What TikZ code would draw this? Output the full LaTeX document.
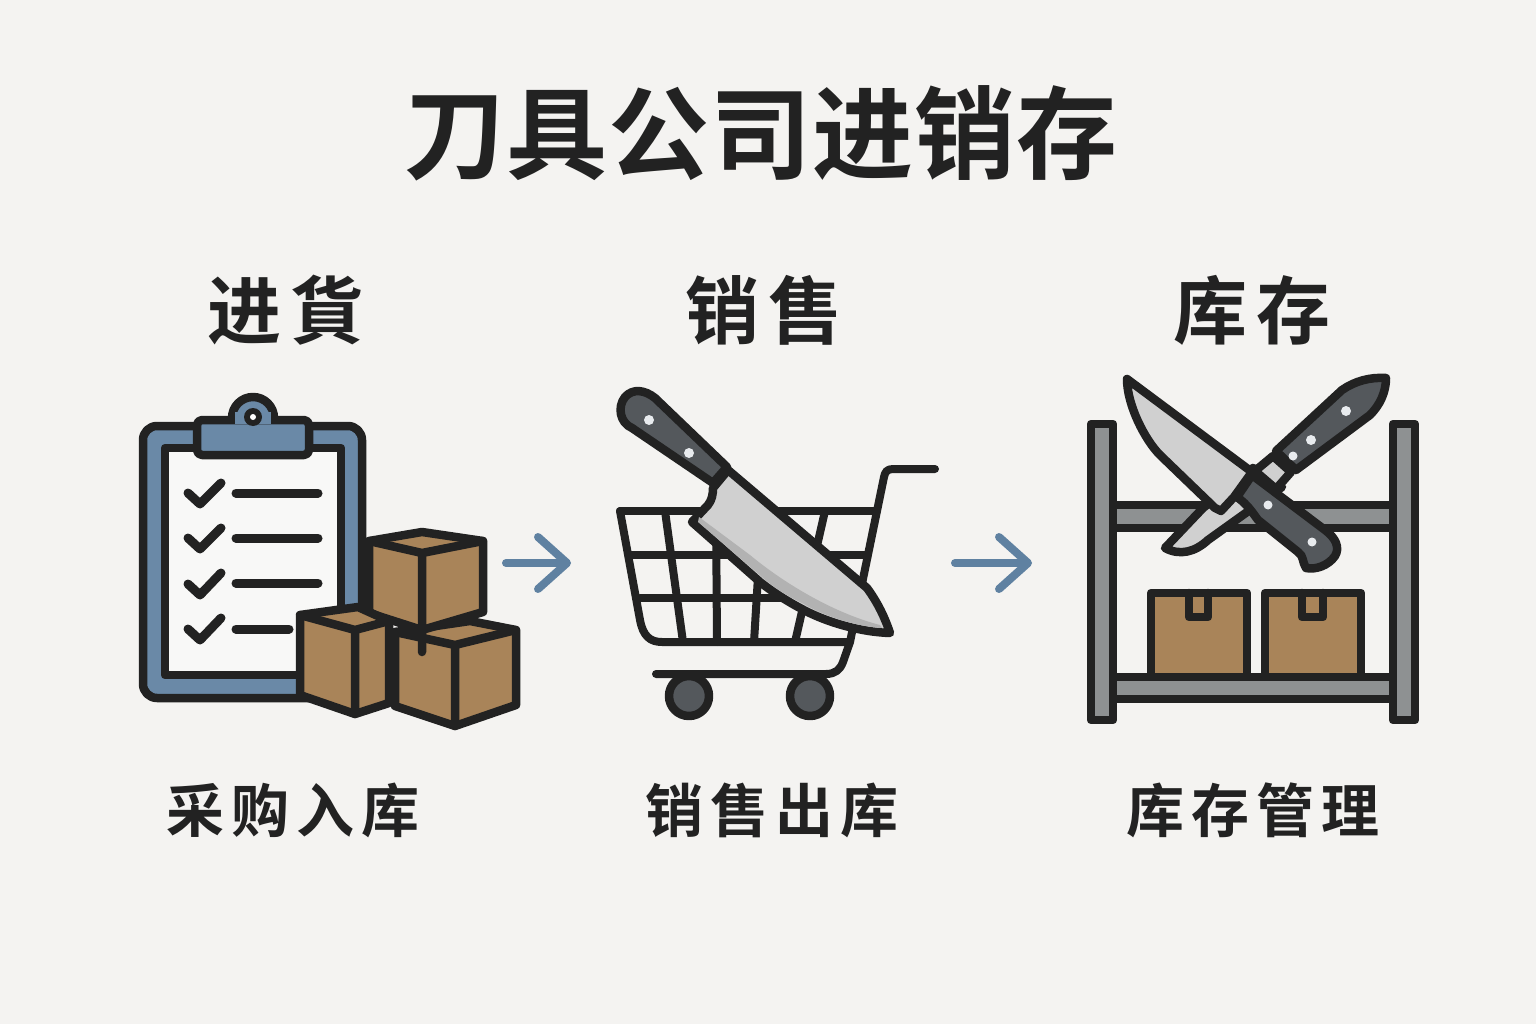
\documentclass[tikz,border=0pt]{standalone}
\usepackage{fontspec}
\usetikzlibrary{positioning, arrows.meta}
\newfontfamily\cjkbig{Noto Sans CJK SC}[BoldFont=* Bold,LetterSpace=1]
\newfontfamily\cjkhead{Noto Sans CJK SC}[BoldFont=* Bold,LetterSpace=12]
\newfontfamily\cjklabel{Noto Sans CJK SC}[BoldFont=* Bold,LetterSpace=12]
\definecolor{paper}{HTML}{F4F3F1}
\definecolor{ink}{HTML}{222222}
\definecolor{steel}{HTML}{6A89A7}
\definecolor{flow}{HTML}{5F81A1}
\definecolor{carton}{HTML}{A98459}
\definecolor{rack}{HTML}{8E9192}
\definecolor{grip}{HTML}{54585C}
\definecolor{edge}{HTML}{D0D0D0}
\definecolor{bevel}{HTML}{B2B2B2}
\definecolor{rivet}{HTML}{E8EBEE}

\begin{document}
\begin{tikzpicture}[x=1pt,y=-1pt,on grid,
    outline/.style={draw=ink,line width=8.5pt,line join=round,line cap=round},
    wire/.style={draw=ink,line width=8pt,line cap=round,line join=round},
    tick/.style={draw=ink,line width=9pt,line cap=round,line join=round},
    flowarrow/.style={draw=flow,line width=8pt,line cap=round,
        -{Straight Barb[length=29pt,width=52pt,round]}},
    titletext/.style={font=\cjkbig\bfseries\fontsize{101}{101}\selectfont,text=ink},
    headtext/.style={font=\cjkhead\bfseries\fontsize{74}{74}\selectfont,text=ink},
    labeltext/.style={font=\cjklabel\bfseries\fontsize{58}{58}\selectfont,text=ink}]

    \useasboundingbox (0,0) rectangle (1536,1024);
    \fill[paper] (0,0) rectangle (1536,1024);

    \node[titletext] (title) at (761,133) {刀具公司进销存};
    \node[headtext] (head_in) at (286,310) {进貨};
    \node[headtext] (head_out) [right=478pt of head_in] {销售};
    \node[headtext] (head_store) [right=966pt of head_in] {库存};
    \node[labeltext] (label_in) [below right=500pt and 7pt of head_in] {采购入库};
    \node[labeltext] (label_out) [below right=500pt and 8pt of head_out] {销售出库};
    \node[labeltext] (label_store) [below right=500pt and 1pt of head_store] {库存管理};

    % clipboard
    \draw[outline,fill=steel,rounded corners=14pt] (143,426) rectangle (362,698);
    \draw[outline,fill=paper!60!white] (165,448) rectangle (341,675);
    \draw[outline,fill=steel] (253,418) circle[radius=21];
    \draw[outline,fill=steel,rounded corners=5pt] (197,420) rectangle (309,455);
    \fill[steel] (235,412) rectangle (271,424);
    \fill[ink] (253,417) circle[radius=9];
    \fill[white] (253,417) circle[radius=3];

    \draw[tick] (188,493) -- (200,504) -- (221,483);
    \draw[tick] (188,538) -- (200,549) -- (221,528);
    \draw[tick] (188,584) -- (200,595) -- (221,573);
    \draw[tick] (188,629) -- (200,640) -- (221,618);
    \draw[tick] (236,493) -- (318,493);
    \draw[tick] (236,538) -- (318,538);
    \draw[tick] (236,583) -- (318,583);
    \draw[tick] (236,629) -- (289,629);

    % cartons
    \draw[outline,fill=carton] (395,632) -- (470,621) -- (516,630) -- (516,705) -- (455,726) -- (395,706) -- cycle;
    \draw[outline] (395,632) -- (455,645) -- (516,630) (455,645) -- (455,726);
    \draw[outline,fill=carton] (369,541) -- (422,532) -- (483,541) -- (483,612) -- (422,630) -- (369,613) -- cycle;
    \draw[outline] (369,541) -- (422,553) -- (483,541) (422,553) -- (422,652);
    \draw[outline,fill=carton] (300,615) -- (358,607) -- (389,621) -- (389,703) -- (355,714) -- (300,695) -- cycle;
    \draw[outline] (300,615) -- (355,630) -- (389,621) (355,630) -- (355,714);

    % arrows
    \coordinate (flow_a1) at (506,563);
    \coordinate (flow_a2) at (571,563);
    \coordinate (flow_b1) at (955,563);
    \coordinate (flow_b2) at (1032,563);
    \draw[flowarrow] (flow_a1) -- (flow_a2);
    \draw[flowarrow] (flow_b1) -- (flow_b2);

    % cart
    \draw[wire] (620,511) -- (877,511);
    \draw[wire] (620,511) -- (640,620) .. controls (643,636) and (650,642) .. (662,642) -- (850,642);
    \draw[wire] (935,469) -- (893,469) .. controls (887,469) and (885,472) .. (884,477) -- (850,642) -- (843,662) .. controls (840,670) and (835,674) .. (826,674) -- (656,674);
    \draw[wire] (631,555) -- (866,555);
    \draw[wire] (640,598) -- (856,598);
    \draw[wire] (665,511) -- (683,642);
    \draw[wire] (716,511) -- (717,642);
    \draw[wire] (762,511) -- (754,642);
    \draw[wire] (825,511) -- (795,642);
    \draw[outline,fill=grip] (689,696) circle[radius=20];
    \draw[outline,fill=grip] (810,696) circle[radius=20];

    % knife in cart
    \draw[outline,fill=grip] (727,467) -- (655,398) .. controls (645,390) and (633,388) .. (625,397) .. controls (617,407) and (620,423) .. (632,428) -- (713,483) -- cycle;
    \fill[rivet] (649,420) circle[radius=5];
    \fill[rivet] (689,453) circle[radius=5];
    \draw[outline,fill=edge] (728,470) -- (867,588) .. controls (878,603) and (885,618) .. (890,633) .. controls (860,632) and (825,622) .. (800,608) .. controls (785,600) and (770,590) .. (760,582) -- (692,522) -- (708,505) .. controls (712,500) and (713,494) .. (713,488) -- cycle;
    \fill[bevel] (699,517) -- (750,555) .. controls (780,580) and (830,612) .. (880,625) -- (882,628) .. controls (860,627) and (825,617) .. (802,603) .. controls (785,595) and (772,586) .. (762,577) -- (698,522) -- cycle;

    % rack
    \draw[outline,fill=rack] (1113,505) rectangle (1393,528);
    \draw[outline,fill=rack] (1113,677) rectangle (1393,699);
    \draw[outline,fill=rack] (1091,424) rectangle (1113,720);
    \draw[outline,fill=rack] (1393,424) rectangle (1415,720);
    \draw[outline,fill=carton] (1151,593) rectangle (1247,677);
    \draw[outline] (1189,593) -- (1189,617) -- (1208,617) -- (1208,593);
    \draw[outline,fill=carton] (1265,593) rectangle (1361,677);
    \draw[outline] (1302,593) -- (1302,617) -- (1323,617) -- (1323,593);

    % crossed knives
    \draw[outline,fill=edge] (1282,487) -- (1208,540) .. controls (1195,552) and (1180,556) .. (1165,548) -- (1203,508) -- (1253,468) -- cycle;
    \draw[outline,fill=edge] (1255,471) -- (1273,456) -- (1291,472) -- (1276,489) -- cycle;
    \draw[outline,fill=grip] (1276,451) -- (1342,390) .. controls (1355,381) and (1370,377) .. (1386,378) .. controls (1386,392) and (1380,405) .. (1370,415) -- (1296,470) -- cycle;
    \fill[rivet] (1293,456) circle[radius=4.5];
    \fill[rivet] (1311,440) circle[radius=5];
    \fill[rivet] (1346,411) circle[radius=5];
    \draw[outline,fill=edge] (1252,472) -- (1127,379) .. controls (1127,405) and (1145,440) .. (1160,455) -- (1215,508) -- (1221,511) -- (1234,497) -- cycle;
    \draw[outline,fill=grip] (1252,475) -- (1325,530) .. controls (1336,538) and (1340,548) .. (1335,556) .. controls (1328,566) and (1315,570) .. (1306,568) .. controls (1302,562) and (1304,556) .. (1298,552) -- (1258,520) .. controls (1252,512) and (1248,505) .. (1237,497) -- cycle;
    \fill[rivet] (1268,505) circle[radius=4.5];
    \fill[rivet] (1312,542) circle[radius=4.5];

\end{tikzpicture}
\end{document}
